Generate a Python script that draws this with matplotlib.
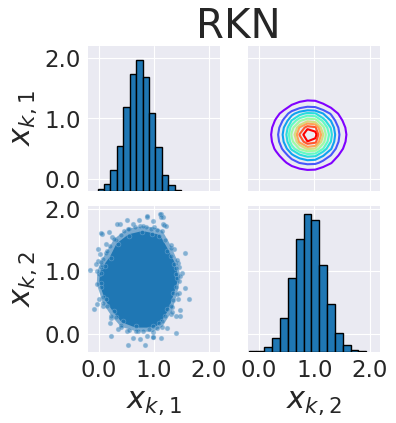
import matplotlib
matplotlib.use("Agg")
import matplotlib.pyplot as plt
import numpy as np
import seaborn as sns

sns.set_style("darkgrid")
plt.rcParams['font.family'] = ['DejaVu Sans']

# histogram of x_{k,1} (density)
h1_edges_lo, h1_edges_hi, h1_nbins = -0.024, 1.49, 13
h1_heights = [0.02, 0.086, 0.268, 0.579, 1.085, 1.512, 1.694, 1.474,
              1.007, 0.566, 0.203, 0.073, 0.009]

# histogram of x_{k,2}
h2_edges_lo, h2_edges_hi, h2_nbins = -0.179, 1.934, 15
h2_heights = [0.007, 0.007, 0.048, 0.142, 0.349, 0.764, 1.172, 1.438,
              1.369, 0.899, 0.494, 0.194, 0.069, 0.021, 0.007]

# contour levels, as fraction of the peak density
level_frac = [0.05, 0.125, 0.21, 0.31, 0.40, 0.51, 0.62, 0.70, 0.81, 0.90]

# solid core of the scatter cloud (outline)
core_x = [0.79, 0.96, 1.09, 1.24, 1.36, 1.42, 1.34, 1.24, 1.09, 0.98, 0.67,
          0.43, 0.28, 0.13, 0.03, 0.04, 0.10, 0.22, 0.34, 0.55]
core_y = [1.62, 1.59, 1.56, 1.33, 1.12, 0.90, 0.66, 0.40, 0.18, 0.13, 0.13,
          0.21, 0.37, 0.56, 0.82, 0.98, 1.08, 1.22, 1.43, 1.57]

# half-dense band around the core (outline)
band_x = [0.80, 1.00, 1.15, 1.30, 1.42, 1.48, 1.42, 1.32, 1.15, 0.98, 0.67,
          0.40, 0.22, 0.07, -0.04, -0.03, 0.03, 0.14, 0.28, 0.52]
band_y = [1.72, 1.70, 1.65, 1.42, 1.18, 0.92, 0.64, 0.36, 0.12, 0.04, 0.05,
          0.12, 0.30, 0.50, 0.80, 1.00, 1.15, 1.32, 1.52, 1.68]

# loose points around the core
pts_x = [0.87, 0.88, 1.13, 1.11, 1.16, 1.13, 0.72, 0.51, 0.39, 0.33, 0.61,
         0.98, 1.17, 1.18, 1.22, 0.18, 0.055, 0.04, 0.24, 0.13, -0.02, 0.02,
         -0.01, -0.05, -0.16, 0.04, 0.0, 1.57, 1.36, 1.30, 1.51, 1.45, 1.44,
         1.40, -0.085, -0.04, 0.005, 0.07, 0.22, 0.20, 0.34, 0.22, 0.50, 0.62,
         0.52, 0.745, 0.84, 0.87, 0.98, 0.55, 1.57, 1.63, 1.46, 1.44, 1.48,
         1.48, 1.40, 1.30, 1.24, 1.40, 1.13, 0.99, 1.05, 1.33,
         0.45, 0.55, 0.65, 0.75, 0.85, 0.95, 1.05, 0.40, 0.30, 0.20, 0.12,
         0.08, 0.06, 1.20, 1.30, 1.40, 1.45, 1.40, 1.35, 1.30, 1.20, 1.15,
         0.90, 0.80, 0.70, 0.40, 0.30, 0.15, 0.08, 0.03]
pts_y = [1.87, 1.88, 1.92, 1.92, 1.87, 1.86, 1.81, 1.81, 1.76, 1.75, 1.76,
         1.80, 1.75, 1.74, 1.72, 1.63, 1.60, 1.61, 1.54, 1.44, 1.35, 1.27,
         1.17, 1.12, 1.02, 1.07, 0.96, 1.29, 1.35, 1.38, 0.97, 1.07, 1.14,
         0.96, 0.41, 0.48, 0.56, 0.45, 0.26, 0.18, 0.08, -0.03, 0.05, -0.05,
         -0.17, -0.07, -0.17, -0.03, -0.04, 0.07, 0.74, 0.56, 0.65, 0.56, 0.39,
         0.29, 0.30, 0.33, 0.10, 0.02, -0.05, -0.04, 0.10, 0.44,
         1.65, 1.68, 1.70, 1.72, 1.70, 1.68, 1.66, 1.58, 1.50, 1.40, 1.30,
         1.20, 1.10, 1.50, 1.25, 1.05, 0.85, 0.75, 0.55, 0.45, 0.30, 0.22,
         0.08, 0.06, 0.05, 0.15, 0.28, 0.45, 0.60, 0.75]

ticks = [0, 1, 2]
tick_labels = ["0.0", "1.0", "2.0"]
lab1 = "$x_{k,1}$"
lab2 = "$x_{k,2}$"

fig = plt.figure(figsize=(3.96, 4.23), dpi=100)
W, H = 396.0, 423.0
def box(l, t, r, b):
    return [l / W, 1 - b / H, (r - l) / W, (b - t) / H]

ax11 = fig.add_axes(box(88, 46, 220, 191))
ax12 = fig.add_axes(box(248, 46, 380, 191))
ax21 = fig.add_axes(box(88, 206, 220, 352))
ax22 = fig.add_axes(box(248, 206, 380, 352))

col1_lim = (-0.2, 2.2)
col2_lim = (-0.19, 2.18)
row1_lim = (-0.2, 2.2)
row2_lim = (-0.28, 2.04)

fs = 16.5
for ax in [ax11, ax12, ax21, ax22]:
    ax.set_xticks(ticks)
    ax.set_yticks(ticks)
    ax.set_xticklabels(tick_labels)
    ax.set_yticklabels(tick_labels)
    ax.tick_params(labelsize=fs, pad=5, length=0)
    for s in ax.spines.values():
        s.set_visible(False)

ax11.set_xlim(col1_lim); ax21.set_xlim(col1_lim)
ax12.set_xlim(col2_lim); ax22.set_xlim(col2_lim)
ax11.set_ylim(row1_lim); ax12.set_ylim(row1_lim)
ax21.set_ylim(row2_lim); ax22.set_ylim(row2_lim)

ax11.tick_params(labelbottom=False)
ax12.tick_params(labelbottom=False, labelleft=False)
ax22.tick_params(labelleft=False)

# diagonal histograms on hidden twin axes
e1 = np.linspace(h1_edges_lo, h1_edges_hi, h1_nbins + 1)
t11 = ax11.twinx()
t11.bar(e1[:-1], h1_heights, width=np.diff(e1), align='edge',
        color='#1f77b4', edgecolor='black', linewidth=1)
t11.set_ylim(0, 1.88)
t11.set_yticks([])
t11.grid(False)
for s in t11.spines.values():
    s.set_visible(False)

e2 = np.linspace(h2_edges_lo, h2_edges_hi, h2_nbins + 1)
t22 = ax22.twinx()
t22.bar(e2[:-1], h2_heights, width=np.diff(e2), align='edge',
        color='#1f77b4', edgecolor='black', linewidth=1)
t22.set_ylim(0, 1.517)
t22.set_yticks([])
t22.grid(False)
for s in t22.spines.values():
    s.set_visible(False)

# scatter
ax21.fill(band_x, band_y, color='#1f77b4', alpha=0.55, lw=0, zorder=2)
ax21.fill(core_x, core_y, color='#1f77b4', lw=2, zorder=2)
ax21.scatter(pts_x, pts_y, s=12, color='#1f77b4', alpha=0.5,
             edgecolors='#aac8e4', linewidths=0.4, zorder=3)
ax21.scatter(core_x + band_x, core_y + band_y, s=12, color='#1f77b4',
             alpha=0.5, edgecolors='#aac8e4', linewidths=0.4, zorder=3)

# density contours from the two marginals (geometric interpolation)
c1 = (e1[:-1] + e1[1:]) / 2
c2 = (e2[:-1] + e2[1:]) / 2
gx = np.linspace(c2[0], c2[-1], 300)
gy = np.linspace(c1[0], c1[-1], 300)
fx = np.exp(np.interp(gx, c2, np.log(h2_heights)))
fy = np.exp(np.interp(gy, c1, np.log(h1_heights)))
Z = np.outer(fy, fx)
levels = np.array(level_frac) * Z.max()
cols = plt.cm.rainbow(np.linspace(0, 1, len(levels)))
ax12.contour(gx, gy, Z, levels=levels, colors=cols, linewidths=1.5)

ax11.set_ylabel(lab1, fontsize=22)
ax21.set_ylabel(lab2, fontsize=22)
ax21.set_xlabel(lab1, fontsize=22)
ax22.set_xlabel(lab2, fontsize=22)

fig.text(238 / W, 1 - 38 / H, "RKN", fontsize=29, ha='center',
         va='baseline', color='#262626')

fig.savefig("out.png", dpi=100)
